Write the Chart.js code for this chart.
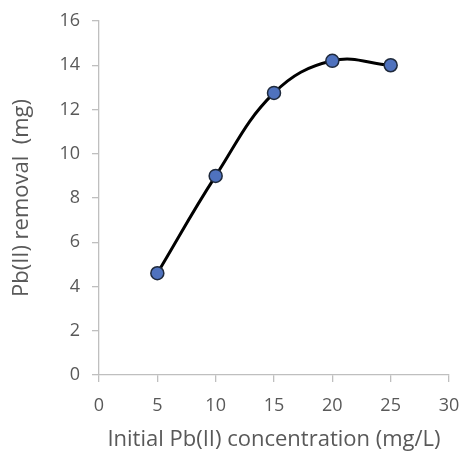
<!DOCTYPE html>
<html>
<head>
<meta charset="utf-8">
<script src="https://cdn.jsdelivr.net/npm/chart.js@4/dist/chart.umd.min.js"></script>
<style>
html,body{margin:0;padding:0;background:#fff;}
#wrap{width:462px;height:451px;position:relative;}
</style>
</head>
<body>
<div id="wrap"><canvas id="c" width="462" height="451"></canvas></div>
<script>
const concentrations = [5, 10, 15, 20, 25];
const removal = [4.6, 9.0, 12.75, 14.2, 14.0];
const xTicks = [0, 5, 10, 15, 20, 25, 30];
const yTicks = [0, 2, 4, 6, 8, 10, 12, 14, 16];
const xTitle = 'Initial Pb(II) concentration (mg/L)';
const yTitle = 'Pb(II) removal  (mg)';

const FONT = "'Open Sans', sans-serif";
const TXT = '#595959';
const AX = '#bfbfbf';

new Chart(document.getElementById('c'), {
  type: 'scatter',
  data: {
    datasets: [{
      data: concentrations.map((x, i) => ({x: x, y: removal[i]})),
      showLine: true,
      borderColor: '#000000',
      borderWidth: 3,
      tension: 0.4,
      pointRadius: 6.5,
      pointBackgroundColor: '#4f72be',
      pointBorderColor: '#1f2a3c',
      pointBorderWidth: 1.5
    }]
  },
  options: {
    responsive: false,
    animation: false,
    layout: {padding: {left: 0, right: 13, top: 21, bottom: 0}},
    plugins: {legend: {display: false}, tooltip: {enabled: false}},
    scales: {
      x: {
        type: 'linear', min: 0, max: 30,
        afterBuildTicks: s => { s.ticks = xTicks.map(v => ({value: v})); },
        afterFit: s => { s.height = 76; s.paddingLeft = 0; s.paddingRight = 0; },
        border: {display: true, color: AX, width: 1.3},
        grid: {display: true, drawOnChartArea: false, drawTicks: true, tickLength: 7, color: AX, lineWidth: 1.3},
        ticks: {color: TXT, font: {family: FONT, size: 18}, padding: 13, maxRotation: 0},
        title: {display: true, text: xTitle, color: TXT, font: {family: FONT, size: 22, lineHeight: 1}, padding: {top: 0, bottom: 0}}
      },
      y: {
        type: 'linear', min: 0, max: 16,
        afterBuildTicks: s => { s.ticks = yTicks.map(v => ({value: v})); },
        afterFit: s => { s.width = 99; s.paddingTop = 0; s.paddingBottom = 0; },
        border: {display: true, color: AX, width: 1.3},
        grid: {display: true, drawOnChartArea: false, drawTicks: true, tickLength: 7, color: AX, lineWidth: 1.3},
        ticks: {color: TXT, font: {family: FONT, size: 18}, padding: 12},
        title: {display: true, text: yTitle, color: TXT, font: {family: FONT, size: 22}, padding: {top: 9, bottom: 0}}
      }
    }
  }
});
</script>
</body>
</html>
